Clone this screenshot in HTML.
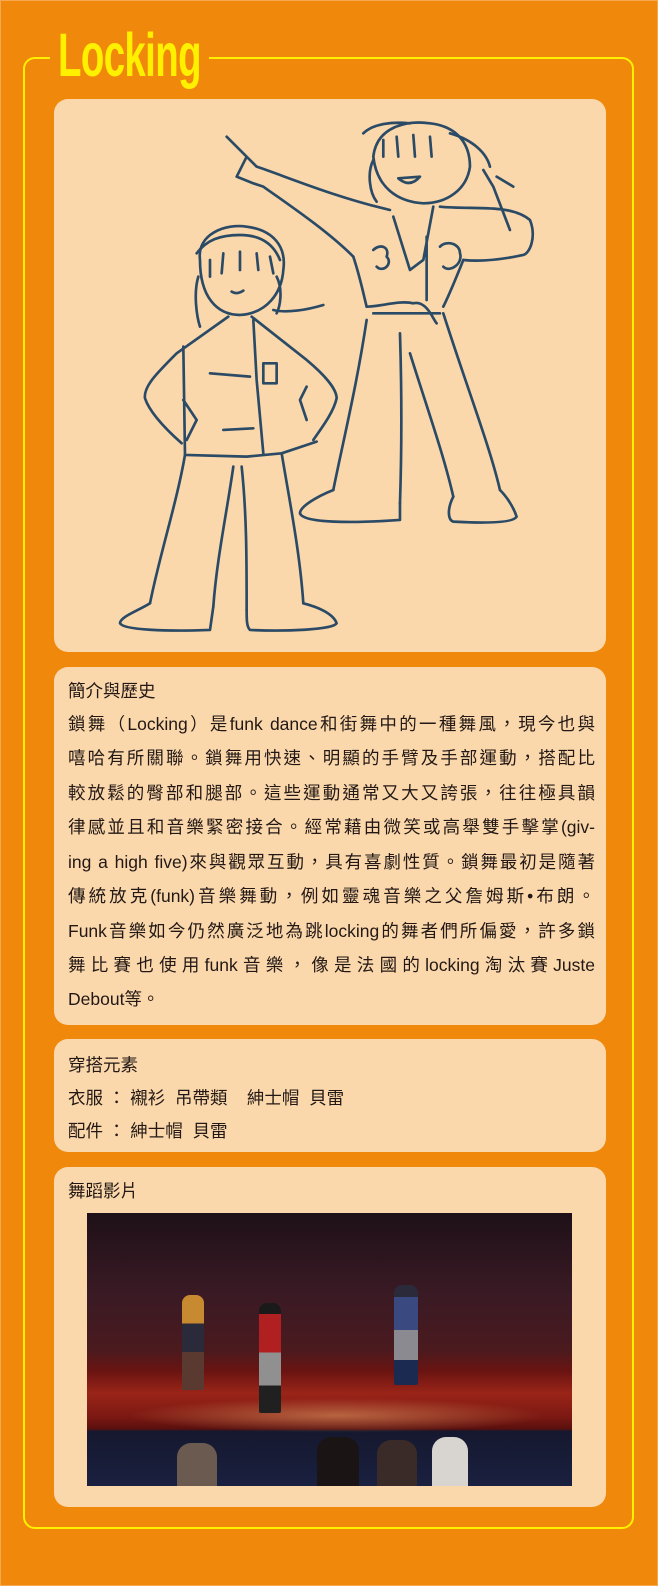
<!DOCTYPE html>
<html><head><meta charset="utf-8">
<style>
html,body{margin:0;padding:0;}
body{width:658px;height:1586px;position:relative;background:#F0890B;overflow:hidden;font-family:"Liberation Sans","Noto Sans CJK TC",sans-serif;color:#231815;}
.abs{position:absolute;}
.card{position:absolute;left:54px;width:552px;background:#FAD8AC;border-radius:14px;}
.ln{position:absolute;left:68px;width:527px;height:34px;line-height:34px;font-size:17.5px;white-space:nowrap;}
.j{text-align:justify;text-align-last:justify;white-space:normal;}
</style></head>
<body>
<div class="abs" style="left:0;top:0;width:656px;height:1584px;border:1px solid #F5A850;"></div>
<div class="abs" style="left:23px;top:57px;width:611px;height:1472px;border:2px solid #FFF000;border-radius:12px;box-sizing:border-box;"></div>
<div class="abs" style="left:50px;top:52px;width:159px;height:12px;background:#F0890B;"></div>
<div class="abs" style="left:58px;top:21px;font-size:61px;font-weight:bold;color:#FFF000;line-height:68px;transform:scaleX(0.63);transform-origin:left top;letter-spacing:-1px;">Locking</div>

<div class="card" style="top:99px;height:553px;"></div>
<svg class="abs" style="left:0;top:0;" width="658" height="700">
<g transform="translate(100,120) scale(0.3333)" fill="none" stroke="#2B4A66" stroke-width="8" stroke-linecap="round" stroke-linejoin="round">
<path d="M300,420 C290,340 380,310 440,320 C520,330 560,380 550,450 C545,520 500,580 420,585 C350,585 300,530 300,420Z"/>
<path d="M290,400 C320,360 360,345 420,345 C480,345 520,370 540,420 M330,420 L330,470 M370,400 L365,460 M420,395 L420,450 M470,400 L475,450 M510,410 L520,460"/>
<path d="M395,515 Q410,525 430,512"/>
<path d="M295,470 C280,520 290,590 300,620 M530,470 C550,510 540,560 530,580 M520,570 C560,580 620,570 670,555"/>
<path d="M385,590 L230,700 C170,760 130,800 135,835 C150,880 200,930 245,970 M250,840 L290,900 L260,960"/>
<path d="M455,590 L620,720 C680,770 710,810 710,835 C700,880 660,930 640,960 M620,800 L600,840 L620,900"/>
<path d="M250,680 L255,1005 L440,1010 L545,1000 L650,965 M460,600 L470,780 L490,1000"/>
<path d="M255,1005 C230,1150 180,1300 150,1450 M400,1040 C380,1180 350,1320 340,1460 M425,1040 C440,1180 440,1320 440,1470 M545,1000 C570,1150 600,1300 610,1450"/>
<path d="M150,1450 C120,1470 60,1490 60,1510 C70,1530 200,1535 330,1530 L340,1460 M440,1470 C440,1500 440,1520 450,1530 C550,1535 700,1530 710,1510 C700,1480 650,1460 610,1450"/>
<path d="M370,930 L460,925 M330,760 L450,770 M490,730 L530,730 L530,790 L490,790Z"/>
<path d="M820,110 C830,20 920,0 990,10 C1080,20 1110,80 1110,140 C1100,210 1040,250 970,250 C890,245 830,200 820,110Z"/>
<path d="M790,40 C820,10 880,5 930,10 M850,60 L850,110 M890,50 L895,110 M940,45 L945,110 M990,50 L995,110 M1050,40 C1120,60 1160,100 1170,140 M820,120 C800,160 810,220 830,245"/>
<path d="M895,175 Q930,205 960,170 Z"/>
<path d="M380,50 L440,110 L410,170 L460,190 L490,200 C560,250 680,330 760,410 M440,110 L470,140 C560,170 700,230 870,270"/>
<path d="M1020,260 C1120,270 1230,250 1290,300 C1310,350 1290,400 1270,405 C1200,420 1140,425 1090,420 M1230,330 L1180,200 L1150,150 M1190,170 L1240,200"/>
<path d="M760,410 C780,470 790,520 800,560 M1090,420 C1070,470 1050,520 1030,560 M880,290 L930,450 L970,420 L1000,260 M980,350 L980,540"/>
<path d="M800,560 C840,560 900,540 940,550 C980,540 1000,600 1010,610 M820,580 L1020,580"/>
<path d="M800,600 C770,800 730,960 700,1110 M900,640 C905,800 905,1000 900,1150 M930,700 C980,860 1030,1000 1060,1130 M1030,580 C1100,800 1170,980 1200,1110"/>
<path d="M700,1110 C650,1130 600,1160 600,1180 C610,1210 760,1210 900,1200 L900,1150 M1060,1130 C1040,1170 1045,1200 1060,1205 C1150,1210 1240,1210 1250,1190 C1240,1160 1220,1130 1200,1110"/>
<path d="M820,390 C840,370 870,380 860,410 C880,430 850,460 830,440 M1020,380 C1040,360 1080,370 1080,400 C1090,430 1050,460 1030,440"/>
</g>
</svg>

<div class="card" style="top:667px;height:358px;"></div>
<div class="ln" style="top:674px;">簡介與歷史</div>
<div class="ln j" style="top:707px;">鎖舞（Locking）是funk dance和街舞中的一種舞風，現今也與</div>
<div class="ln j" style="top:741px;">嘻哈有所關聯。鎖舞用快速、明顯的手臂及手部運動，搭配比</div>
<div class="ln j" style="top:776px;">較放鬆的臀部和腿部。這些運動通常又大又誇張，往往極具韻</div>
<div class="ln j" style="top:810px;">律感並且和音樂緊密接合。經常藉由微笑或高舉雙手擊掌(giv-</div>
<div class="ln j" style="top:845px;">ing a high five)來與觀眾互動，具有喜劇性質。鎖舞最初是隨著</div>
<div class="ln j" style="top:879px;">傳統放克(funk)音樂舞動，例如靈魂音樂之父詹姆斯•布朗。</div>
<div class="ln j" style="top:914px;">Funk音樂如今仍然廣泛地為跳locking的舞者們所偏愛，許多鎖</div>
<div class="ln j" style="top:948px;">舞比賽也使用funk音樂，像是法國的locking淘汰賽Juste</div>
<div class="ln" style="top:982px;">Debout等。</div>

<div class="card" style="top:1039px;height:113px;"></div>
<div class="ln" style="top:1048px;">穿搭元素</div>
<div class="ln" style="top:1081px;">衣服 ： 襯衫&nbsp; 吊帶類 &nbsp;&nbsp; 紳士帽&nbsp; 貝雷</div>
<div class="ln" style="top:1114px;">配件 ： 紳士帽&nbsp; 貝雷</div>

<div class="card" style="top:1167px;height:340px;"></div>
<div class="ln" style="top:1174px;">舞蹈影片</div>
<div class="abs" style="left:87px;top:1213px;width:485px;height:273px;overflow:hidden;background:linear-gradient(180deg,#1e1018 0%,#3a1a24 30%,#4a1a1e 50%,#6a1412 58%,#9a2418 66%,#7a1812 75%,#5a100e 79%,#15182e 80%,#1a2040 100%);">
  <div class="abs" style="left:40px;top:185px;width:420px;height:35px;background:radial-gradient(ellipse at center,rgba(255,190,120,.45),rgba(255,160,90,0) 70%);"></div>
  <div class="abs" style="left:95px;top:82px;width:22px;height:95px;background:linear-gradient(#c88a30 0 30%,#2a2a3a 30% 60%,#5a3a30 60%);border-radius:8px 8px 2px 2px;"></div>
  <div class="abs" style="left:172px;top:90px;width:22px;height:110px;background:linear-gradient(#1a1a1a 0 10%,#b02020 10% 45%,#909090 45% 75%,#202020 75%);border-radius:8px 8px 2px 2px;"></div>
  <div class="abs" style="left:307px;top:72px;width:24px;height:100px;background:linear-gradient(#2a2a3a 0 12%,#3a4a80 12% 45%,#8a8a90 45% 75%,#1a2a50 75%);border-radius:8px 8px 2px 2px;"></div>
  <div class="abs" style="left:90px;top:230px;width:40px;height:43px;background:#6a5a50;border-radius:14px 14px 0 0;"></div>
  <div class="abs" style="left:230px;top:224px;width:42px;height:49px;background:#1a1414;border-radius:14px 14px 0 0;"></div>
  <div class="abs" style="left:290px;top:227px;width:40px;height:46px;background:#3a2a28;border-radius:14px 14px 0 0;"></div>
  <div class="abs" style="left:345px;top:224px;width:36px;height:49px;background:#d8d4d0;border-radius:14px 14px 0 0;"></div>
</div>
</body></html>
